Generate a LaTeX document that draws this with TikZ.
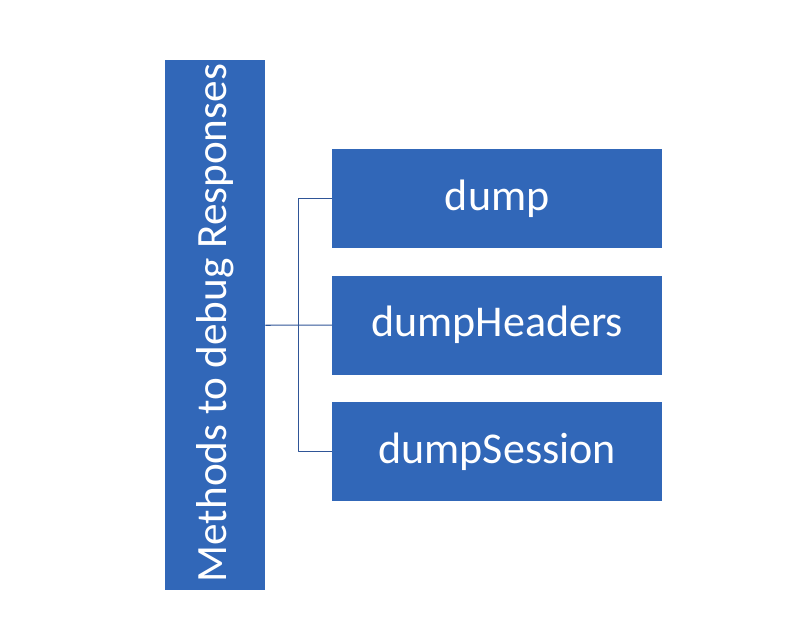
\documentclass[tikz,border=0pt]{standalone}
\usepackage{fontspec}
\setmainfont{Carlito}
\usetikzlibrary{positioning,calc}
\definecolor{boxblue}{RGB}{49,103,184}
\definecolor{lineblue}{RGB}{47,85,151}
\begin{document}
\begin{tikzpicture}[x=1pt, y=-1pt, line join=round,
	box/.style={fill=boxblue, text=white, font=\fontsize{44}{50}\selectfont, inner sep=0pt, anchor=north west},
	link/.style={draw=lineblue, line width=1.1pt}]
	\useasboundingbox (0,0) rectangle (786,627);
	\node[box, minimum width=100pt, minimum height=530pt] (methods) at (165,60) {};
	\node[rotate=90, text=white, font=\fontsize{43.2}{50}\selectfont] at ($(methods.center)+(0,-2)$) {Methods to debug Responses};
	\node[box, minimum width=330pt, minimum height=99pt] (dump) at (332,149) {dump};
	\node[box, minimum width=330pt, minimum height=99pt, below=27pt of dump.south west, anchor=north west] (headers) {dumpHeaders};
	\node[box, minimum width=330pt, minimum height=99pt, below=27pt of headers.south west, anchor=north west] (session) {dumpSession};
	\coordinate (fork) at ($(methods.east)!0.5!(headers.west)$);
	\draw[link] (methods.east) -- (headers.west);
	\draw[link] (dump.west) -| (fork) |- (session.west);
\end{tikzpicture}
\end{document}
